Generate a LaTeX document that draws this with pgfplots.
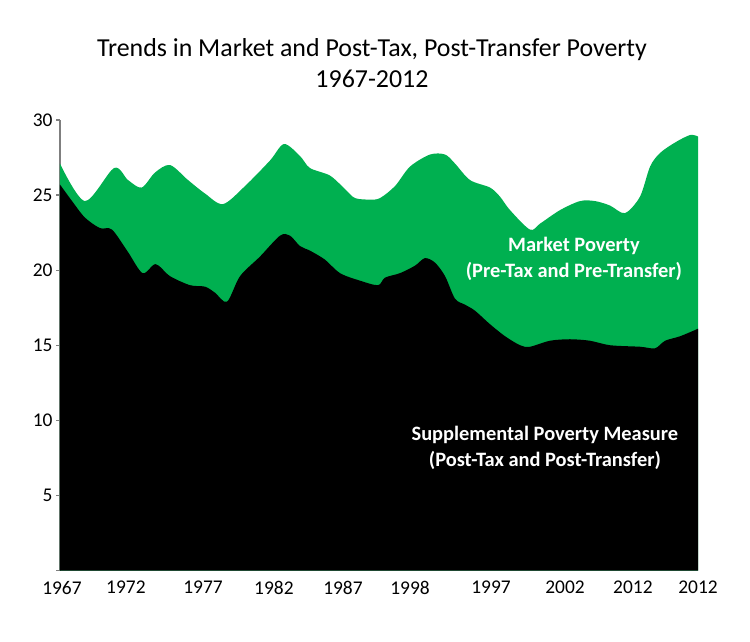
\documentclass[border=0pt]{standalone}
\usepackage{pgfplots}
\pgfplotsset{compat=1.18}
\usepackage{fontspec}
\setmainfont{Carlito}
\definecolor{mktgreen}{HTML}{00B050}
\definecolor{axisgray}{HTML}{7F7F7F}

\begin{document}
\begin{tikzpicture}
\begin{axis}[
    width=638bp, height=450.5bp, scale only axis,
    xmin=1967, xmax=2012, ymin=0, ymax=30,
    axis y line=left, axis x line=bottom,
    axis line style={-, draw=axisgray, line width=1.2pt},
    x axis line style={draw=none},
    xtick={1967.14,1971.65,1977.09,1982.09,1986.96,1991.69,1997.40,2002.62,2007.41,2012},
    xticklabels={1967,1972,1977,1982,1987,1998,1997,2002,2012,2012},
    xtick style={draw=none},
    ytick={0,5,10,15,20,25,30},
    yticklabels={,5,10,15,20,25,30},
    ytick style={draw=axisgray, line width=1.2pt},
    tick align=outside, major tick length=4bp,
    ticklabel style={font=\fontsize{19.5}{22}\selectfont},
    /pgf/number format/assume math mode=true,
    xticklabel style={yshift=-3bp},
    title={Trends in Market and Post-Tax, Post-Transfer Poverty\\1967-2012},
    title style={at={(0.489,1.113)}, anchor=center, align=center,
                 font=\fontsize{26}{32}\selectfont},
    clip=false,
]
% market poverty (pre-tax, pre-transfer)
\addplot[fill=mktgreen, draw=none, smooth, tension=0.5] coordinates {
(1967.00,27.1) (1968.76,24.6) (1970.81,26.8) (1971.80,26.0) (1972.76,25.5)
(1973.70,26.5) (1974.76,27.0) (1976.03,26.0) (1977.23,25.1) (1978.50,24.4)
(1980.05,25.6) (1981.81,27.3) (1982.80,28.4) (1983.93,27.6) (1984.63,26.8)
(1986.04,26.3) (1987.10,25.4) (1987.81,24.8) (1988.86,24.7) (1989.57,24.8)
(1990.63,25.6) (1991.69,26.9) (1993.10,27.7) (1994.16,27.7) (1994.86,27.1)
(1995.92,26.0) (1997.33,25.5) (1998.03,24.9) (1998.74,24.0) (2000.15,22.7)
(2000.86,23.1) (2002.27,24.0) (2003.68,24.6) (2004.74,24.6) (2005.80,24.3)
(2006.85,23.8) (2007.91,24.9) (2008.62,26.9) (2009.32,27.8) (2010.38,28.5)
(2011.44,29.0) (2012.00,28.9)
} \closedcycle;
% supplemental poverty measure (post-tax, post-transfer)
\addplot[fill=black, draw=none, smooth, tension=0.5] coordinates {
(1967.00,25.7) (1967.85,24.6) (1968.76,23.5) (1969.82,22.8) (1970.67,22.7)
(1971.80,21.2) (1972.83,19.8) (1973.75,20.4) (1974.76,19.6) (1976.17,19.0)
(1977.23,18.9) (1977.93,18.5) (1978.78,17.9) (1979.70,19.6) (1981.10,20.9)
(1982.52,22.3) (1983.22,22.3) (1983.93,21.6) (1984.63,21.3) (1985.69,20.7)
(1986.75,19.8) (1988.16,19.3) (1989.43,19.0) (1989.92,19.5) (1990.98,19.8)
(1992.04,20.3) (1992.74,20.8) (1993.45,20.5) (1994.16,19.6) (1994.86,18.1)
(1995.57,17.7) (1996.27,17.3) (1997.33,16.4) (1998.39,15.6) (1999.45,15.0)
(2000.15,14.9) (2001.56,15.3) (2002.97,15.4) (2004.38,15.3) (2005.80,15.0)
(2007.91,14.9) (2008.97,14.8) (2009.68,15.3) (2010.74,15.6) (2012.00,16.1)
} \closedcycle;
\node[white, align=center, font=\bfseries\fontsize{20.5}{26}\selectfont]
  at (axis cs:2003.25,20.75) {Market Poverty\\(Pre-Tax and Pre-Transfer)};
\node[white, align=center, font=\bfseries\fontsize{20.5}{26}\selectfont]
  at (axis cs:2001.2,8.15) {Supplemental Poverty Measure\\(Post-Tax and Post-Transfer)};
\end{axis}
\path (current axis.south west) ++(-60bp,-71.5bp) rectangle ++(750bp,642bp);
\end{tikzpicture}
\end{document}
